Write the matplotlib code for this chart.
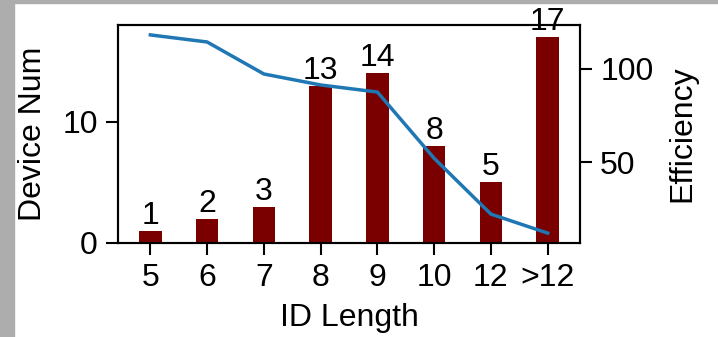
import matplotlib as mpl
mpl.use('Agg')
import matplotlib.pyplot as plt
from matplotlib.patches import Rectangle

plt.rcParams['font.family'] = ['Liberation Sans', 'DejaVu Sans']

id_lengths = ["5", "6", "7", "8", "9", "10", "12", ">12"]
device_num = [1, 2, 3, 13, 14, 8, 5, 17]
efficiency = [118.3, 114.5, 97.3, 91.4, 87.6, 52, 22, 11.8]

fs = 23
fig = plt.figure(figsize=(7.18, 3.37), dpi=100)

# grey frame left and top of the screenshot
fig.patches.append(Rectangle((0, 0), 14 / 718, 1, transform=fig.transFigure,
                             color='#adadad', zorder=0))
fig.patches.append(Rectangle((0, 1 - 3 / 337), 1, 3 / 337, transform=fig.transFigure,
                             color='#adadad', zorder=0))

ax = fig.add_axes([118 / 718, 94 / 337, 462 / 718, 218 / 337])
x = list(range(len(id_lengths)))
bars = ax.bar(x, device_num, width=0.4, color='#7a0000')
ax.bar_label(bars, padding=0, fontsize=fs)
ax.set_ylim(0, 18)
ax.set_yticks([0, 10])
ax.set_xticks(x)
ax.set_xticklabels(id_lengths)
ax.set_xlabel("ID Length", fontsize=fs, labelpad=7)
ax.set_ylabel("Device Num", fontsize=fs, labelpad=10)
ax.tick_params(labelsize=fs, length=8.5, width=1.5, pad=6)

ax2 = ax.twinx()
ax2.plot(x, efficiency, color='#1f77b4', lw=2.5)
ax2.set_ylabel("Efficiency", fontsize=fs, labelpad=10)
ax2.set_yticks([50, 100])
ax2.tick_params(labelsize=fs, length=8.5, width=1.5, pad=6)

for a in (ax, ax2):
    for s in a.spines.values():
        s.set_linewidth(1.5)

fig.savefig("out.png", dpi=100)
